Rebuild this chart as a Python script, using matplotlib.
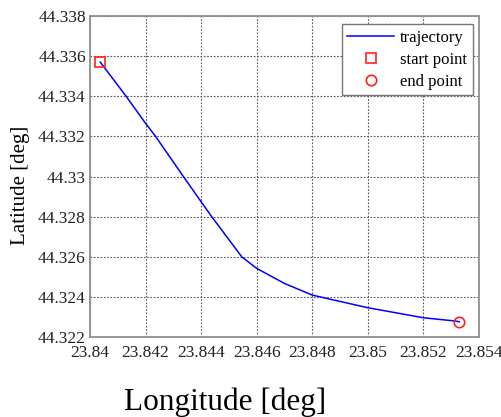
import matplotlib
matplotlib.use('Agg')
import matplotlib.pyplot as plt

# Trajectory
lon = [23.84037, 23.84130, 23.84200, 23.84236, 23.84336, 23.84400, 23.84438, 23.84546,
       23.84600, 23.84700, 23.84800, 23.84828, 23.85000, 23.85200, 23.85313, 23.85329]
lat = [44.33570, 44.33400, 44.33265, 44.33200, 44.33000, 44.32874, 44.32800, 44.32600,
       44.32542, 44.32467, 44.32409, 44.32400, 44.32346, 44.32296, 44.32280, 44.32276]

x_ticks = [23.84, 23.842, 23.844, 23.846, 23.848, 23.85, 23.852, 23.854]
x_labels = ['23.84', '23.842', '23.844', '23.846', '23.848', '23.85', '23.852', '23.854']
y_ticks = [44.322, 44.324, 44.326, 44.328, 44.33, 44.332, 44.334, 44.336, 44.338]
y_labels = ['44.322', '44.324', '44.326', '44.328', '44.33', '44.332', '44.334', '44.336', '44.338']

plt.rcParams['font.family'] = ['Liberation Serif', 'DejaVu Serif']

fig = plt.figure(figsize=(5.02, 4.17), dpi=100)
ax = fig.add_axes([0.1793, 0.1918, 0.7749, 0.7698])

ax.plot(lon, lat, color='#0000ff', lw=1.1, label='trajectory')
ax.plot(lon[0], lat[0], 's', ms=7.5, mfc='none', mec='#ff2020', mew=1.2, ls='none', label='start point')
ax.plot(lon[-1], lat[-1], 'o', ms=7.5, mfc='none', mec='#ff2020', mew=1.2, ls='none', label='end point')

ax.set_xlim(23.84, 23.854)
ax.set_ylim(44.322, 44.338)
ax.set_xticks(x_ticks)
ax.set_xticklabels(x_labels)
ax.set_yticks(y_ticks)
ax.set_yticklabels(y_labels)
ax.tick_params(length=0, labelsize=12.5, colors='#222222', pad=3)
ax.tick_params(axis='x', pad=6)

ax.grid(True, ls=(0, (1.5, 1.5)), color='#555555', lw=0.8)
for s in ax.spines.values():
    s.set_color('#909090')
    s.set_linewidth(1.3)

leg = ax.legend(loc='upper right', fontsize=12, frameon=True, fancybox=False,
                edgecolor='#777777', framealpha=1, handlelength=2.8, handletextpad=0.35,
                labelspacing=0.35, borderpad=0.35, borderaxespad=0,
                bbox_to_anchor=(0.984, 0.975))
leg.get_frame().set_linewidth(1.0)

fig.text(21 / 502, 1 - 185 / 417, 'Latitude [deg]', rotation=90, ha='center', va='center', fontsize=15)
fig.text(225 / 502, 1 - 402 / 417, 'Longitude [deg]', ha='center', va='center', fontsize=22.5)

fig.savefig('out.png', dpi=100)
